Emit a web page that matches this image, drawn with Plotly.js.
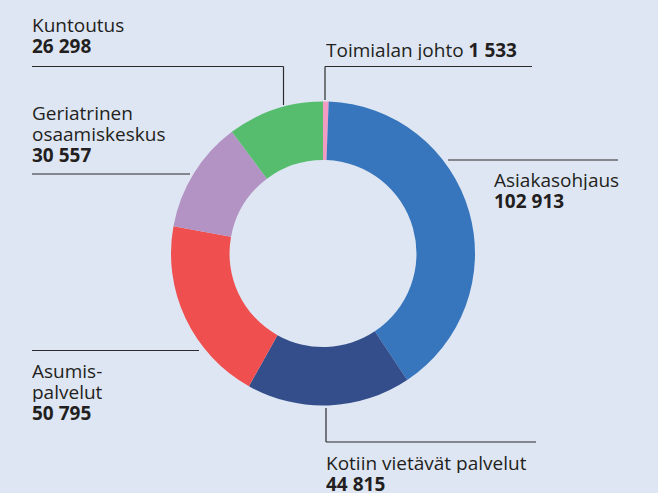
<!DOCTYPE html>
<html>
<head>
<meta charset="utf-8">
<script src="https://cdn.plot.ly/plotly-3.0.1.min.js"></script>
<style>
  html, body { margin: 0; padding: 0; background: #dfe6f3; }
  #chart { width: 658px; height: 493px; }
</style>
</head>
<body>
<div id="chart"></div>
<script>
// Data
const categories = ["Toimialan johto", "Asiakasohjaus", "Kotiin vietävät palvelut", "Asumispalvelut", "Geriatrinen osaamiskeskus", "Kuntoutus"];
const values = [1533, 102913, 44815, 50795, 30557, 26298];
const sliceColors = ["#f29cc3", "#3776bd", "#334e8b", "#ef4f4f", "#b293c4", "#56bd6f"];
// Label lines as shown in the picture (name split into lines)
const labelLines = [
  ["Toimialan johto"],
  ["Asiakasohjaus"],
  ["Kotiin vietävät palvelut"],
  ["Asumis-", "palvelut"],
  ["Geriatrinen", "osaamiskeskus"],
  ["Kuntoutus"]
];

function fmt(v) {
  return String(v).replace(/\B(?=(\d{3})+(?!\d))/g, " ");
}

const W = 658, H = 493;
const px = x => x / W;
const py = y => 1 - y / H;

const FONT = "Open Sans";
const FS = 19;
const TXT = "#231f20";
const LH = 21;

// label placement (pixel positions of first baseline)
const labelPos = [
  {x: 326, y: 57, inline: true},
  {x: 494, y: 187},
  {x: 326, y: 470},
  {x: 32, y: 378},
  {x: 32, y: 120},
  {x: 32, y: 32}
];

const annotations = [];
categories.forEach((c, i) => {
  const p = labelPos[i];
  let lines;
  if (p.inline) {
    lines = [labelLines[i][0] + " <b>" + fmt(values[i]) + "</b>"];
  } else {
    lines = labelLines[i].concat(["<b>" + fmt(values[i]) + "</b>"]);
  }
  lines.forEach((t, k) => {
    const base = p.y + k * LH;
    annotations.push({
      text: t, showarrow: false, xref: "paper", yref: "paper",
      x: px(p.x - 1.5), y: py(base - 0.36 * FS), xanchor: "left", yanchor: "middle",
      height: LH - 1, valign: "middle",
      font: {family: FONT, size: FS, color: TXT},
      borderpad: 0
    });
  });
});

const lc = {color: "#2b2b2b", width: 1.2};
function seg(x0, y0, x1, y1) {
  return {type: "line", xref: "paper", yref: "paper", x0: px(x0), y0: py(y0), x1: px(x1), y1: py(y1), line: lc};
}
const shapes = [
  // Kuntoutus
  seg(32, 66.5, 283.5, 66.5), seg(283.5, 66.5, 283.5, 105),
  // Toimialan johto
  seg(325, 66.5, 532, 66.5), seg(325, 66.5, 325, 100),
  // Geriatrinen
  seg(32, 174, 190, 174),
  // Asiakasohjaus
  seg(448, 160, 618, 160),
  // Asumis
  seg(32, 350.5, 199, 350.5),
  // Kotiin
  seg(326, 408, 326, 442), seg(326, 442, 536, 442)
];

const cx = 323, cy = 253.5, R = 152;
const trace = {
  type: "pie",
  labels: categories,
  values: values,
  marker: {colors: sliceColors, line: {width: 0}},
  hole: 0.615,
  sort: false,
  direction: "clockwise",
  rotation: 0,
  textinfo: "none",
  hoverinfo: "label+value",
  showlegend: false,
  domain: {x: [px(cx - R), px(cx + R)], y: [py(cy + R), py(cy - R)]}
};

const layout = {
  width: W, height: H,
  margin: {l: 0, r: 0, t: 0, b: 0},
  paper_bgcolor: "#dfe6f3",
  plot_bgcolor: "#dfe6f3",
  showlegend: false,
  annotations: annotations,
  shapes: shapes
};

Plotly.newPlot("chart", [trace], layout, {displayModeBar: false, staticPlot: true});
</script>
</body>
</html>
